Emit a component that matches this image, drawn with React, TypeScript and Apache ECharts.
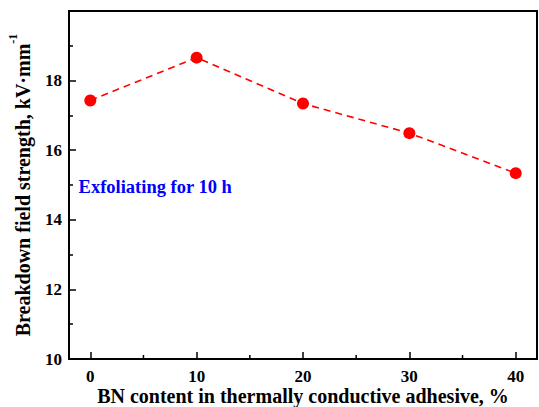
import React, { useEffect, useRef } from "react";
import * as echarts from "echarts";

// BN loading (%) and measured breakdown field strength (kV·mm⁻¹)
const bnContent = [0, 10, 20, 30, 40];
const strength = [17.43, 18.66, 17.34, 16.49, 15.34];

const xRange = { min: -2, max: 42 };
const xMajorTicks = [0, 10, 20, 30, 40];
const xMinorTicks = [5, 15, 25, 35];
const yTicks = { min: 10, max: 20, interval: 2 };

const noteText = "Exfoliating for 10 h";
const notePos = [-1.1, 14.95];
const xTitle = "BN content in thermally conductive adhesive, %";
const yTitle = "Breakdown field strength, kV·mm";
const yTitleSup = "-1";

const FONT = "'Liberation Serif', 'Times New Roman', serif";

export default function App() {
  const ref = useRef<HTMLDivElement>(null);

  useEffect(() => {
    if (!ref.current) return;
    const chart = echarts.init(ref.current, null, { renderer: "svg" });
    chart.setOption({
      animation: false,
      backgroundColor: "#fff",
      grid: {
        left: 69,
        top: 11,
        right: 2,
        bottom: 48,
        outerBoundsMode: "none",
        containLabel: false,
        show: true,
        borderColor: "#000",
        borderWidth: 2,
        backgroundColor: "transparent",
      },
      xAxis: {
        type: "value",
        min: xRange.min,
        max: xRange.max,
        axisLabel: {
          margin: 9,
          color: "#000",
          fontFamily: FONT,
          fontWeight: "bold",
          fontSize: 17,
          customValues: xMajorTicks,
        },
        axisTick: {
          inside: true,
          length: 7,
          lineStyle: { color: "#000", width: 1.5 },
          customValues: xMajorTicks,
        },
        splitLine: { show: false },
        axisLine: { onZero: false, lineStyle: { color: "#000", width: 2 } },
        name: xTitle,
        nameLocation: "middle",
        nameGap: 27,
        nameMoveOverlap: false,
        nameTextStyle: {
          color: "#000",
          fontFamily: FONT,
          fontWeight: "bold",
          fontSize: 20,
        },
      },
      yAxis: {
        type: "value",
        min: yTicks.min,
        max: yTicks.max,
        interval: yTicks.interval,
        axisLabel: {
          margin: 7,
          color: "#000",
          fontFamily: FONT,
          fontWeight: "bold",
          fontSize: 17,
          showMaxLabel: false,
        },
        axisTick: {
          inside: true,
          length: 7,
          lineStyle: { color: "#000", width: 1.5 },
        },
        minorTick: {
          show: true,
          splitNumber: 2,
          length: 4,
          lineStyle: { color: "#000", width: 1.5 },
        },
        splitLine: { show: false },
        axisLine: { onZero: false, lineStyle: { color: "#000", width: 2 } },
        name: `{a|${yTitle}}{b|${yTitleSup}}`,
        nameLocation: "middle",
        nameGap: 36,
        nameMoveOverlap: false,
        nameRotate: 90,
        nameTextStyle: {
          color: "#000",
          fontFamily: FONT,
          fontWeight: "bold",
          fontSize: 20,
          rich: {
            a: {
              fontFamily: FONT,
              fontWeight: "bold",
              fontSize: 20,
              color: "#000",
              lineHeight: 26,
              verticalAlign: "bottom",
            },
            b: {
              fontFamily: FONT,
              fontWeight: "bold",
              fontSize: 12,
              color: "#000",
              lineHeight: 26,
              verticalAlign: "top",
            },
          },
        },
      },
      series: [
        {
          type: "line",
          data: bnContent.map((x, i) => [x, strength[i]]),
          symbol: "circle",
          symbolSize: 12,
          itemStyle: { color: "#ff0000" },
          lineStyle: { color: "#ff0000", width: 1.6, type: [7, 5] },
          z: 3,
        },
      ],
    });

    // note text and the x-axis minor ticks, placed in data coordinates
    const notePx = chart.convertToPixel({ gridIndex: 0 }, notePos);
    const minorPx = xMinorTicks.map((v) =>
      chart.convertToPixel({ gridIndex: 0 }, [v, yTicks.min])
    );
    chart.setOption({
      graphic: [
        {
          type: "text",
          x: notePx[0],
          y: notePx[1],
          style: {
            text: noteText,
            fill: "#0000ff",
            font: `bold 18.5px ${FONT}`,
            textVerticalAlign: "middle",
          },
          z: 10,
        },
        ...minorPx.map((p) => ({
          type: "line",
          shape: { x1: p[0], y1: p[1], x2: p[0], y2: p[1] - 4 },
          style: { stroke: "#000", lineWidth: 1.5 },
          z: 10,
        })),
      ],
    });

    return () => chart.dispose();
  }, []);

  return (
    <div
      ref={ref}
      style={{ position: "absolute", left: 0, top: 0, width: 539, height: 407 }}
    />
  );
}
